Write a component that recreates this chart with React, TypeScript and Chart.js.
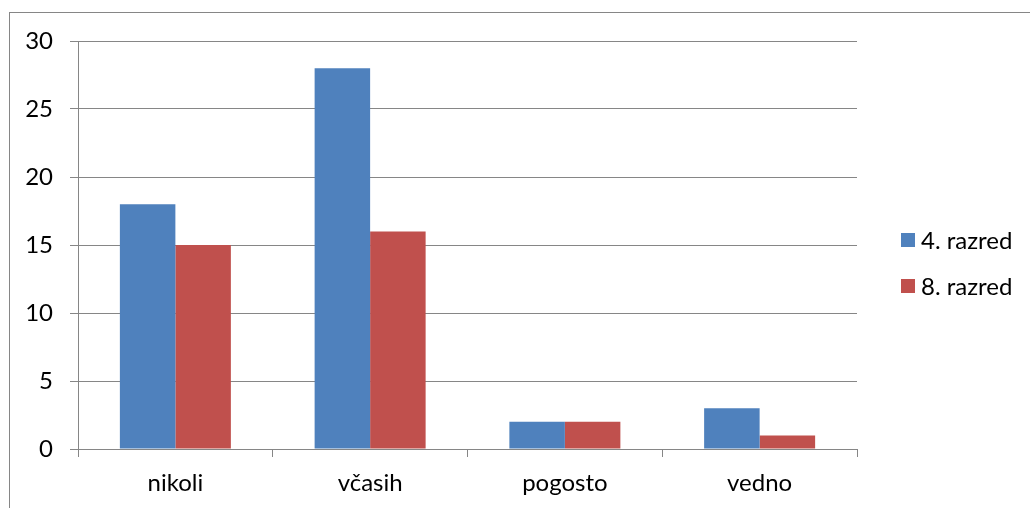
import React, { useEffect, useRef } from "react";
import { Chart, registerables } from "chart.js";

Chart.register(...registerables);

const categories = ["nikoli", "včasih", "pogosto", "vedno"];
const series4 = [18, 28, 2, 3];
const series8 = [15, 16, 2, 1];
const seriesNames = ["4. razred", "8. razred"];
const yTicks = [0, 5, 10, 15, 20, 25, 30];

const BLUE = "#4F81BD";
const RED = "#C0504D";
const GRID = "#868686";
const FONT = "Lato, 'Open Sans', sans-serif";

const legendPlugin = {
  id: "customLegend",
  afterDraw(chart: any) {
    const ctx = chart.ctx;
    const area = chart.chartArea;
    ctx.save();
    ctx.font = `24px ${FONT}`;
    ctx.textBaseline = "middle";
    ctx.textAlign = "left";
    chart.data.datasets.forEach((ds: any, i: number) => {
      const cy = area.top + 199 + i * 46;
      const bx = area.right + 44;
      ctx.fillStyle = ds.backgroundColor;
      ctx.fillRect(bx, cy - 7, 14, 14);
      ctx.fillStyle = "#000";
      ctx.fillText(ds.label, bx + 20, cy + 1);
    });
    ctx.restore();
  },
};

export default function App() {
  const ref = useRef<HTMLCanvasElement | null>(null);

  useEffect(() => {
    if (!ref.current) return;
    const chart = new Chart(ref.current, {
      type: "bar",
      data: {
        labels: categories,
        datasets: [
          { label: seriesNames[0], data: series4, backgroundColor: BLUE, borderWidth: 0 },
          { label: seriesNames[1], data: series8, backgroundColor: RED, borderWidth: 0 },
        ],
      },
      options: {
        animation: false,
        responsive: false,
        maintainAspectRatio: false,
        layout: { padding: { left: 0, top: 41, right: 173, bottom: 0 } },
        datasets: {
          bar: { categoryPercentage: 0.57, barPercentage: 1 },
        },
        plugins: {
          legend: { display: false },
          tooltip: { enabled: false },
        },
        scales: {
          x: {
            afterFit: (s: any) => {
              s.height = 59;
            },
            grid: {
              offset: true,
              drawOnChartArea: false,
              drawTicks: true,
              tickLength: 8,
              color: GRID,
              lineWidth: 1,
            },
            border: { color: GRID, width: 1 },
            ticks: {
              color: "#000",
              font: { family: FONT, size: 24 },
              padding: 12,
            },
          },
          y: {
            min: 0,
            max: 30,
            afterFit: (s: any) => {
              s.width = 78;
            },
            afterBuildTicks: (s: any) => {
              s.ticks = yTicks.map((v) => ({ value: v }));
            },
            grid: {
              drawOnChartArea: true,
              drawTicks: true,
              tickLength: 8,
              color: GRID,
              lineWidth: 1,
            },
            border: { color: GRID, width: 1 },
            ticks: {
              color: "#000",
              font: { family: FONT, size: 24 },
              padding: 17,
              stepSize: 5,
            },
          },
        },
      },
      plugins: [legendPlugin],
    });
    return () => chart.destroy();
  }, []);

  return (
    <div
      style={{
        position: "fixed",
        left: 0,
        top: 0,
        width: 1030,
        height: 508,
        overflow: "hidden",
        background: "#fff",
      }}
    >
      <div
        style={{
          position: "absolute",
          left: 9,
          top: 12,
          width: 1200,
          height: 700,
          border: `1px solid ${GRID}`,
        }}
      />
      <canvas
        ref={ref}
        width={1030}
        height={508}
        style={{ position: "absolute", left: 0, top: 0, width: 1030, height: 508 }}
      />
    </div>
  );
}
